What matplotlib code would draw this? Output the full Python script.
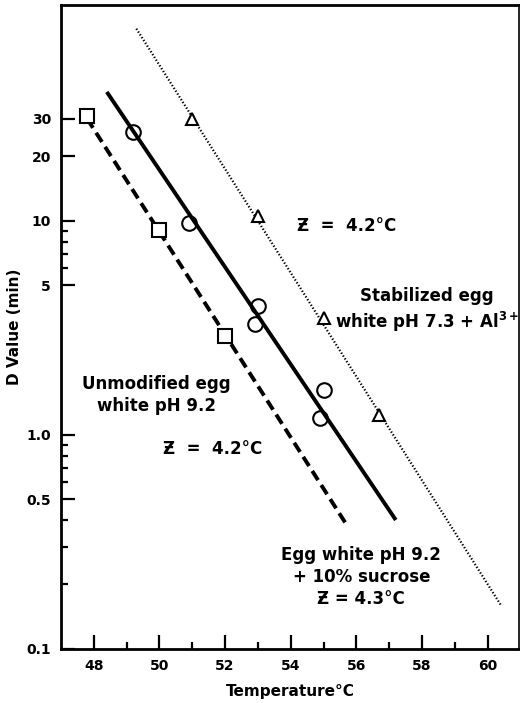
import matplotlib
matplotlib.use("Agg")
from matplotlib import pyplot as plt

# data points
sq_t = [47.8, 50.0, 52.0]
sq_d = [31.0, 9.1, 2.9]

circ_t = [49.2, 50.9, 53.0, 52.9, 55.0, 54.9]
circ_d = [26.0, 9.8, 4.0, 3.3, 1.62, 1.2]

tri_t = [51.0, 53.0, 55.0, 56.7]
tri_d = [30.0, 10.5, 3.5, 1.24]

# regression lines (end points)
dash_t = [47.8, 55.75]
dash_d = [30.0, 0.37]
solid_t = [48.4, 57.2]
solid_d = [40.0, 0.40]
dot_t = [49.3, 60.4]
dot_d = [79.0, 0.16]

yticks = [0.1, 0.5, 1.0, 5, 10, 20, 30]
ylabels = ['0.1', '0.5', '1.0', '5', '10', '20', '30']
yminor = [0.2, 0.3, 0.4, 0.6, 0.7, 0.8, 0.9, 6, 7, 8, 9]
xticks = [48, 50, 52, 54, 56, 58, 60]
xminor = [49, 51, 53, 55, 57, 59]

plt.rcParams['font.family'] = ['DejaVu Sans']
plt.rcParams['font.weight'] = 'bold'

fig = plt.figure(figsize=(5.2, 7.03), dpi=100)
ax = fig.add_axes([0.117, 0.077, 0.881, 0.916])

ax.plot(dash_t, dash_d, color='black', lw=2.8, ls=(0, (2.8, 1.5)))
ax.plot(solid_t, solid_d, color='black', lw=2.8, solid_capstyle='butt')
ax.plot(dot_t, dot_d, color='black', lw=1.6, ls=(0, (0.6, 0.9)))

ax.plot(sq_t, sq_d, ls='none', marker='s', ms=10, mfc='white', mec='black', mew=1.5)
ax.plot(circ_t, circ_d, ls='none', marker='o', ms=10.5, mfc='none', mec='black', mew=1.5)
ax.plot(tri_t, tri_d, ls='none', marker='^', ms=9, mfc='white', mec='black', mew=1.5)

ax.set_yscale('log')
ax.set_xlim(47.0, 60.95)
ax.set_ylim(0.1, 102)

ax.set_yticks(yticks)
ax.set_yticklabels(ylabels)
ax.set_yticks(yminor, minor=True)
ax.set_yticklabels([], minor=True)
ax.set_xticks(xticks)
ax.set_xticks(xminor, minor=True)

ax.tick_params(which='major', direction='in', length=10, width=1.6, labelsize=10, pad=7)
ax.tick_params(which='minor', direction='in', length=5, width=1.6)
ax.tick_params(axis='y', which='both', right=False)
ax.tick_params(axis='x', which='both', top=False)

for s in ['left', 'bottom', 'top']:
    ax.spines[s].set_linewidth(2)
ax.spines['right'].set_linewidth(1.2)

ax.set_ylabel('D Value (min)', fontsize=11, fontweight='bold', labelpad=3)
ax.set_xlabel('Temperature\u00b0C', fontsize=11, fontweight='bold', labelpad=8)

fs = 12
ax.text(54.2, 9.5, '\u01b5  =  4.2\u00b0C', fontsize=fs, fontweight='bold', ha='left', va='center')
ax.text(58.15, 3.8, 'Stabilized egg\nwhite pH 7.3 + Al$^{\\mathbf{3+}}$', fontsize=fs, fontweight='bold',
        ha='center', va='center', linespacing=1.25)
ax.text(49.9, 1.54, 'Unmodified egg\nwhite pH 9.2', fontsize=fs, fontweight='bold',
        ha='center', va='center', linespacing=1.3)
ax.text(50.1, 0.86, '\u01b5  =  4.2\u00b0C', fontsize=fs, fontweight='bold', ha='left', va='center')
ax.text(56.15, 0.216, 'Egg white pH 9.2\n+ 10% sucrose\n\u01b5 = 4.3\u00b0C', fontsize=fs,
        fontweight='bold', ha='center', va='center', linespacing=1.3)

fig.savefig('out.png', dpi=100)
